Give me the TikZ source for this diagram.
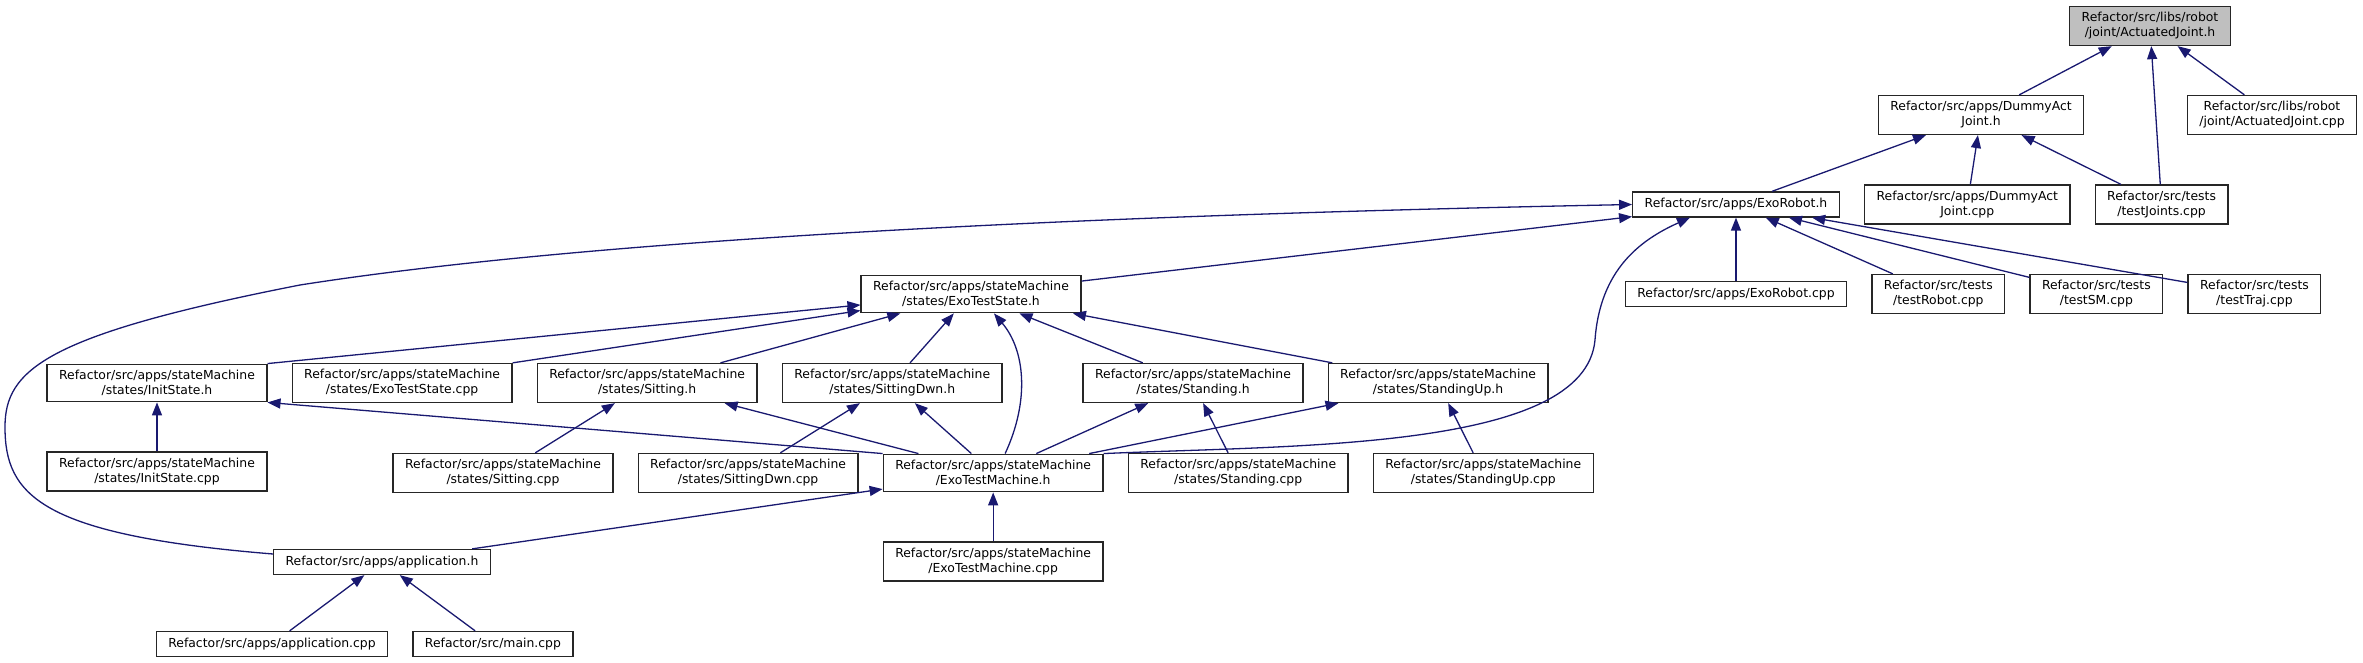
\documentclass[tikz,border=0pt]{standalone}
\usepackage{fontspec}
\newfontfamily\graphfont{DejaVu Sans}
\usepackage{xcolor}
\definecolor{edgeblue}{RGB}{25,25,112}
\definecolor{rootgray}{RGB}{191,191,191}
\usepackage{tikz}
\usetikzlibrary{arrows.meta, positioning, calc}

\begin{document}
\begin{tikzpicture}[
  x=0.5pt, y=-0.5pt,
  node distance=24.5pt and 12pt,
  file/.style={rectangle, draw=black!85, line width=0.65pt, fill=white,
               inner xsep=6pt, inner ysep=3pt, minimum height=12.5pt,
               font=\graphfont\fontsize{6.2}{7.5}\selectfont, align=center},
  rootfile/.style={file, fill=rootgray},
  inc/.style={-{Triangle[length=6.5pt, width=5pt]}, line width=0.65pt, color=edgeblue}
]
  \useasboundingbox (0,0) rectangle (2363,663);

  % Included header
  \node[rootfile] (actH) at (2150,26) {Refactor/src/libs/robot\\/joint/ActuatedJoint.h};
  % Second rank
  \node[file] (dummyH) at (1981,115) {Refactor/src/apps/DummyAct\\Joint.h};
  \node[file] (actCpp) at (2272,115) {Refactor/src/libs/robot\\/joint/ActuatedJoint.cpp};
  % Robot
  \node[file] (robotH) at (1736,204.5) {Refactor/src/apps/ExoRobot.h};
  \node[file, right=of robotH] (dummyCpp) {Refactor/src/apps/DummyAct\\Joint.cpp};
  \node[file, right=of dummyCpp] (jointsCpp) {Refactor/src/tests\\/testJoints.cpp};
  % State base and tests
  \node[file] (stateH) at (971,294) {Refactor/src/apps/stateMachine\\/states/ExoTestState.h};
  \node[file] (robotCpp) at (1736,294) {Refactor/src/apps/ExoRobot.cpp};
  \node[file, right=of robotCpp] (robotTest) {Refactor/src/tests\\/testRobot.cpp};
  \node[file, right=of robotTest] (smTest) {Refactor/src/tests\\/testSM.cpp};
  \node[file, right=of smTest] (trajTest) {Refactor/src/tests\\/testTraj.cpp};
  % States
  \node[file] (initH) at (157,383) {Refactor/src/apps/stateMachine\\/states/InitState.h};
  \node[file, right=of initH] (stateCpp) {Refactor/src/apps/stateMachine\\/states/ExoTestState.cpp};
  \node[file, right=of stateCpp] (sitH) {Refactor/src/apps/stateMachine\\/states/Sitting.h};
  \node[file, right=of sitH] (sitDwnH) {Refactor/src/apps/stateMachine\\/states/SittingDwn.h};
  \node[file] (standH) at (1193,383) {Refactor/src/apps/stateMachine\\/states/Standing.h};
  \node[file, right=of standH] (standUpH) {Refactor/src/apps/stateMachine\\/states/StandingUp.h};
  % State sources and machine
  \node[file, below=of initH] (initCpp) {Refactor/src/apps/stateMachine\\/states/InitState.cpp};
  \node[file] (sitCpp) at (503,473) {Refactor/src/apps/stateMachine\\/states/Sitting.cpp};
  \node[file, right=of sitCpp] (sitDwnCpp) {Refactor/src/apps/stateMachine\\/states/SittingDwn.cpp};
  \node[file, right=of sitDwnCpp] (machineH) {Refactor/src/apps/stateMachine\\/ExoTestMachine.h};
  \node[file, right=of machineH] (standCpp) {Refactor/src/apps/stateMachine\\/states/Standing.cpp};
  \node[file, right=of standCpp] (standUpCpp) {Refactor/src/apps/stateMachine\\/states/StandingUp.cpp};
  % Application
  \node[file] (appH) at (382,562) {Refactor/src/apps/application.h};
  \node[file, below=of machineH] (machineCpp) {Refactor/src/apps/stateMachine\\/ExoTestMachine.cpp};
  \node[file] (appCpp) at (272,644) {Refactor/src/apps/application.cpp};
  \node[file, right=of appCpp] (mainCpp) {Refactor/src/main.cpp};

  % Includes of ActuatedJoint.h
  \draw[inc] (dummyH) -- (actH);
  \draw[inc] (jointsCpp) -- (actH);
  \draw[inc] (actCpp) -- (actH);
  % Includes of DummyActJoint.h
  \draw[inc] (robotH) -- (dummyH);
  \draw[inc] (dummyCpp) -- (dummyH);
  \draw[inc] (jointsCpp) -- (dummyH);
  % Includes of ExoRobot.h
  \draw[inc] ([yshift=4pt]appH.west) .. controls (40,535) and (5,495) .. (5,427)
    .. controls (5,370) and (45,335) .. (300,285)
    .. controls (600,238) and (1100,215) .. (robotH.west);
  \draw[inc] (stateH) -- (robotH);
  \draw[inc] (machineH.north east) .. controls (1300,445) and (1585,450) .. (1595,340)
    .. controls (1600,270) and (1640,240) .. ($(robotH.south)+(-46,0)$);
  \draw[inc] (robotCpp) -- (robotH);
  \draw[inc] (robotTest) -- (robotH);
  \draw[inc] (smTest) -- (robotH);
  \draw[inc] (trajTest) -- (robotH);
  % Includes of ExoTestState.h
  \draw[inc] (initH.north east) -- (stateH);
  \draw[inc] (stateCpp.north east) -- (stateH);
  \draw[inc] (sitH) -- (stateH);
  \draw[inc] (sitDwnH) -- (stateH);
  \draw[inc] ($(machineH.north)+(12,0)$) .. controls (1030,400) and (1025,350) .. ($(stateH.south)+(23,0)$);
  \draw[inc] (standH) -- (stateH);
  \draw[inc] (standUpH) -- (stateH);
  % Includes of the states
  \draw[inc] (initCpp) -- (initH);
  \draw[inc] (machineH.north west) -- (initH.south east);
  \draw[inc] (sitCpp) -- (sitH);
  \draw[inc] (machineH) -- (sitH);
  \draw[inc] (sitDwnCpp) -- (sitDwnH);
  \draw[inc] (machineH) -- (sitDwnH);
  \draw[inc] (machineH) -- (standH);
  \draw[inc] (standCpp) -- (standH);
  \draw[inc] (machineH) -- (standUpH);
  \draw[inc] (standUpCpp) -- (standUpH);
  % Includes of ExoTestMachine.h and application.h
  \draw[inc] (appH) -- (machineH);
  \draw[inc] (machineCpp) -- (machineH);
  \draw[inc] (appCpp) -- (appH);
  \draw[inc] (mainCpp) -- (appH);
\end{tikzpicture}
\end{document}
